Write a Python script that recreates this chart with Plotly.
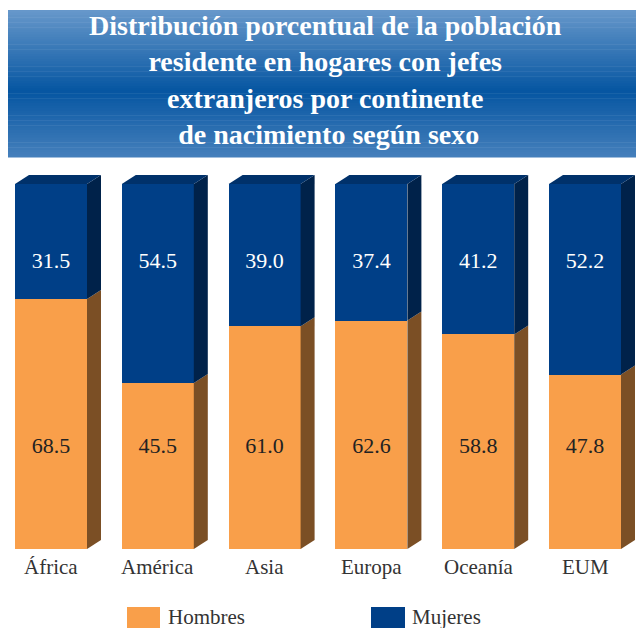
import plotly.graph_objects as go
import numpy as np

# data
continentes = ["África", "América", "Asia", "Europa", "Oceanía", "EUM"]
hombres = [68.5, 45.5, 61.0, 62.6, 58.8, 47.8]
mujeres = [31.5, 54.5, 39.0, 37.4, 41.2, 52.2]
series_names = ["Hombres", "Mujeres"]

titulo = ("<b>Distribución porcentual de la población<br>"
          "residente en hogares con jefes<br>"
          "extranjeros por continente<br>"
          " de nacimiento según sexo</b>")

# page body has an 8px margin, so the figure is drawn 8px in
OFF = 8
W, H = 644 - OFF, 628 - OFF
FONT = "Liberation Serif, Times New Roman, serif"

ORANGE, ORANGE_SIDE = "#F99F4A", "#7B4F25"
BLUE, BLUE_SIDE, BLUE_TOP = "#003F87", "#00224A", "#00316A"

# reference pixels -> figure pixels
def fx(p):
    return p - OFF

def fy(p):
    return p - OFF

px_pitch = 106.8
px_first = fx(51)
x_lo = -px_first / px_pitch
x_hi = (W - px_first) / px_pitch
py_base, py_top = fy(549), fy(184)
per_unit = (py_base - py_top) / 100.0
y_lo = -(H - py_base) / per_unit
y_hi = py_base / per_unit

bar_w = 72 / px_pitch
dx = 14 / px_pitch
dy = 9 / per_unit

xs = np.arange(len(continentes))

fig = go.Figure()
fig.add_trace(go.Bar(x=xs, y=hombres, width=bar_w, marker=dict(color=ORANGE, line_width=0),
                     name=series_names[0], showlegend=False, hoverinfo="y"))
fig.add_trace(go.Bar(x=xs, y=mujeres, width=bar_w, marker=dict(color=BLUE, line_width=0),
                     name=series_names[1], showlegend=False, hoverinfo="y"))

# 3d side and top faces
for i, x in enumerate(xs):
    xr = x + bar_w / 2
    xl = x - bar_w / 2
    h = hombres[i]
    tot = hombres[i] + mujeres[i]
    fig.add_trace(go.Scatter(
        x=[xr, xr + dx, xr + dx, xr, xr], y=[0, dy, h + dy, h, 0],
        fill="toself", fillcolor=ORANGE_SIDE, mode="lines", line=dict(width=0),
        showlegend=False, hoverinfo="skip"))
    fig.add_trace(go.Scatter(
        x=[xr, xr + dx, xr + dx, xr, xr], y=[h, h + dy, tot + dy, tot, h],
        fill="toself", fillcolor=BLUE_SIDE, mode="lines", line=dict(width=0),
        showlegend=False, hoverinfo="skip"))
    fig.add_trace(go.Scatter(
        x=[xl, xl + dx, xr + dx, xr, xl], y=[tot, tot + dy, tot + dy, tot, tot],
        fill="toself", fillcolor=BLUE_TOP, mode="lines", line=dict(width=0),
        showlegend=False, hoverinfo="skip"))

# value labels (fixed heights as in the original)
fig.add_trace(go.Scatter(x=xs, y=[78.6] * len(xs), mode="text",
                         text=[f"{v:.1f}" for v in mujeres],
                         textfont=dict(family=FONT, size=22, color="white"),
                         showlegend=False, hoverinfo="skip"))
fig.add_trace(go.Scatter(x=xs, y=[27.7] * len(xs), mode="text",
                         text=[f"{v:.1f}" for v in hombres],
                         textfont=dict(family=FONT, size=22, color="#222222"),
                         showlegend=False, hoverinfo="skip"))

# category labels
for x, c in zip(xs, continentes):
    fig.add_annotation(x=x, y=-(fy(567) - py_base) / per_unit, text=c, showarrow=False,
                       font=dict(family=FONT, size=21, color="#333333"))

# banner gradient
def ypx(p):
    return 1 - fy(p) / H

def xpx(p):
    return fx(p) / W

stops = [(0, (104, 152, 203)), (0.55, (6, 86, 162)), (1, (70, 128, 188))]
top, bot = 10, 157
n = 60
shapes = []
for k in range(n):
    t = (k + 0.5) / n
    for (t0, c0), (t1, c1) in zip(stops[:-1], stops[1:]):
        if t0 <= t <= t1:
            f = (t - t0) / (t1 - t0)
            c = tuple(int(a + (b - a) * f) for a, b in zip(c0, c1))
    y0 = top + (bot - top) * k / n
    y1 = top + (bot - top) * (k + 1) / n + 0.5
    shapes.append(dict(type="rect", xref="paper", yref="paper", x0=xpx(6), x1=1,
                       y0=ypx(y1), y1=ypx(y0), fillcolor=f"rgb{c}", line_width=0, layer="below"))

# legend boxes
shapes.append(dict(type="rect", xref="paper", yref="paper", x0=xpx(127), x1=xpx(160),
                   y0=ypx(629), y1=ypx(607), fillcolor=ORANGE, line_width=0))
shapes.append(dict(type="rect", xref="paper", yref="paper", x0=xpx(371), x1=xpx(405),
                   y0=ypx(629), y1=ypx(607), fillcolor=BLUE, line_width=0))
fig.add_annotation(xref="paper", yref="paper", x=xpx(166), y=ypx(617), xanchor="left",
                   yanchor="middle", text=series_names[0], showarrow=False,
                   font=dict(family=FONT, size=21, color="#333333"))
fig.add_annotation(xref="paper", yref="paper", x=xpx(410), y=ypx(617), xanchor="left",
                   yanchor="middle", text=series_names[1], showarrow=False,
                   font=dict(family=FONT, size=21, color="#333333"))

fig.add_annotation(xref="paper", yref="paper", x=xpx(325), y=ypx(80),
                   xanchor="center", yanchor="middle",
                   text=titulo, showarrow=False, align="center",
                   font=dict(family=FONT, size=28, color="white"))

fig.update_layout(
    width=W, height=H,
    margin=dict(l=0, r=0, t=0, b=0),
    barmode="stack",
    plot_bgcolor="white", paper_bgcolor="white",
    xaxis=dict(range=[x_lo, x_hi], visible=False, fixedrange=True),
    yaxis=dict(range=[y_lo, y_hi], visible=False, fixedrange=True),
    shapes=shapes,
    showlegend=False,
)

fig.write_html("out.html")
